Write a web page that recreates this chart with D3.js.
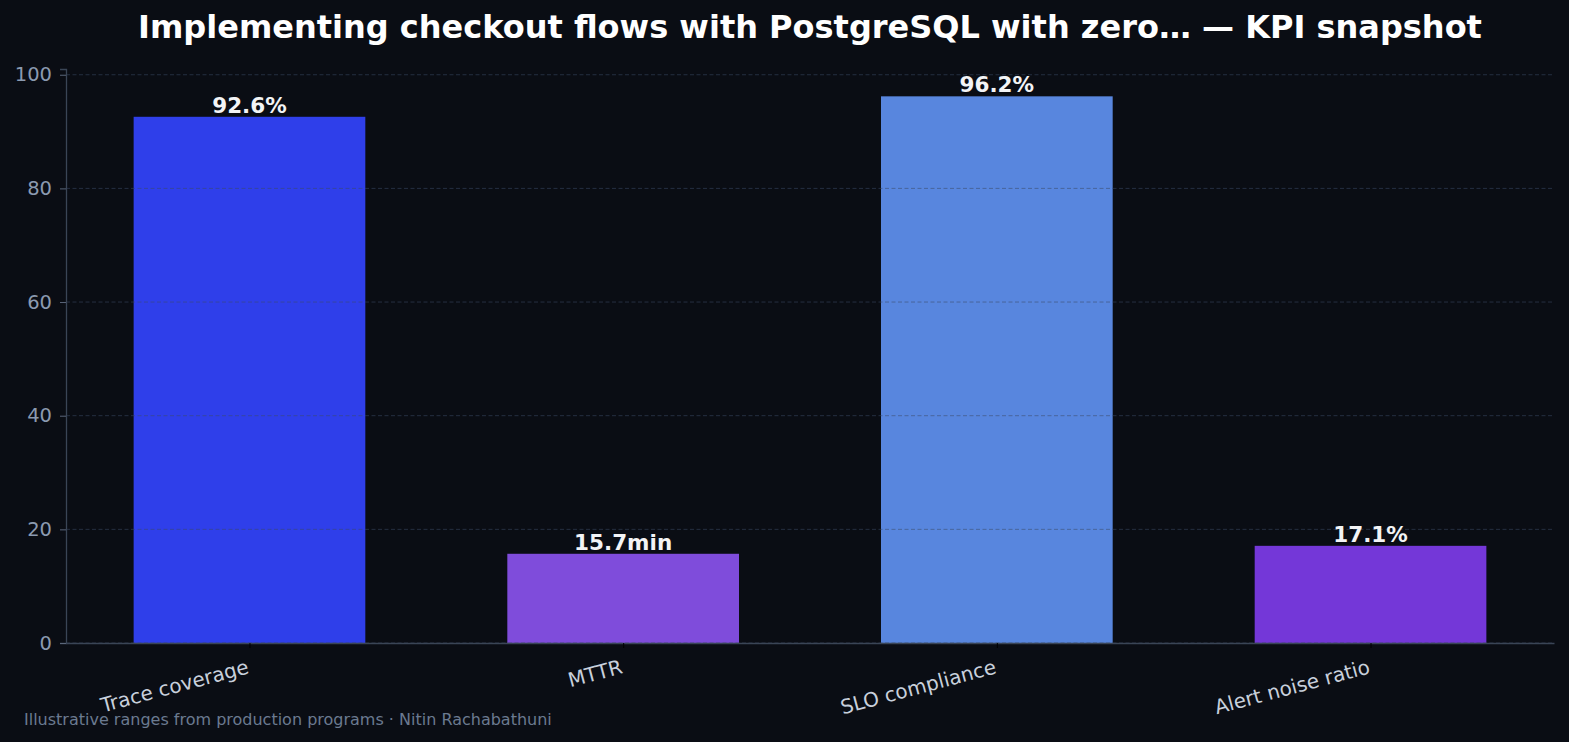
<!DOCTYPE html>
<html>
<head>
<meta charset="utf-8">
<script src="https://cdn.jsdelivr.net/npm/d3@7"></script>
<style>
  html, body { margin: 0; padding: 0; background: #0a0d14; }
  svg { display: block; font-family: "DejaVu Sans", sans-serif; }
</style>
</head>
<body>
<script>
//chart data
var categories = ["Trace coverage", "MTTR", "SLO compliance", "Alert noise ratio"];
var values = [92.6, 15.7, 96.2, 17.1];
var valueLabels = ["92.6%", "15.7min", "96.2%", "17.1%"];
var barColors = ["#2f3fea", "#7f4cdb", "#5886de", "#7437d8"];
var yTicks = [0, 20, 40, 60, 80, 100];

var width = 1569, height = 742;
var margin = {left: 66, right: 15, top: 69, bottom: 99};

var svg = d3.select("body").append("svg")
  .attr("width", width)
  .attr("height", height);

svg.append("rect").attr("width", width).attr("height", height).attr("fill", "#0a0d14");

//scales, matplotlib style margins
var x = d3.scaleLinear()
  .domain([-0.491, categories.length - 1 + 0.491])
  .range([margin.left, width - margin.right]);
var y = d3.scaleLinear()
  .domain([0, d3.max(values) * 1.05])
  .range([height - margin.bottom, margin.top]);
var barW = x(0.62) - x(0);

//bars
svg.selectAll(".bar")
  .data(values)
  .enter()
  .append("rect")
  .attr("class", "bar")
  .attr("x", function(d, i){ return x(i) - barW / 2; })
  .attr("y", function(d){ return y(d); })
  .attr("width", barW)
  .attr("height", function(d){ return y(0) - y(d); })
  .attr("fill", function(d, i){ return barColors[i]; });

//grid lines on top of bars
svg.selectAll(".grid")
  .data(yTicks)
  .enter()
  .append("line")
  .attr("x1", margin.left)
  .attr("x2", width - margin.right)
  .attr("y1", function(d){ return y(d); })
  .attr("y2", function(d){ return y(d); })
  .attr("stroke", "#3b4a66")
  .attr("stroke-opacity", 0.55)
  .attr("stroke-width", 1)
  .attr("stroke-dasharray", "4,2.5");

//value labels
svg.selectAll(".val")
  .data(values)
  .enter()
  .append("text")
  .attr("x", function(d, i){ return x(i); })
  .attr("y", function(d){ return y(d) - 4; })
  .attr("text-anchor", "middle")
  .attr("fill", "#f3f4f6")
  .attr("font-size", 21.5)
  .attr("font-weight", "bold")
  .text(function(d, i){ return valueLabels[i]; });

//y axis
var yAxis = svg.append("g")
  .attr("transform", "translate(" + margin.left + ",0)")
  .call(d3.axisLeft(y).tickValues(yTicks).tickSize(6).tickPadding(8));
yAxis.select(".domain").attr("stroke", "#3a4556").attr("stroke-width", 1.3);
yAxis.selectAll(".tick line").attr("stroke", "#5a667a");
yAxis.selectAll(".tick text")
  .attr("fill", "#8b9ab0")
  .attr("font-size", 19.5)
  .attr("font-family", "DejaVu Sans, sans-serif");

//x axis
var xAxis = svg.append("g")
  .attr("transform", "translate(0," + y(0) + ")")
  .call(d3.axisBottom(x).tickValues(d3.range(categories.length))
    .tickFormat(function(d){ return categories[d]; })
    .tickSize(5).tickSizeOuter(0));
xAxis.select(".domain").attr("stroke", "#3a4556").attr("stroke-width", 1.3);
xAxis.selectAll(".tick line").attr("stroke", "#000");
xAxis.selectAll(".tick text")
  .attr("fill", "#c8d0dc")
  .attr("font-size", 20)
  .attr("font-family", "DejaVu Sans, sans-serif")
  .attr("text-anchor", "end")
  .attr("y", 0)
  .attr("dy", 0)
  .attr("transform", "translate(0,30) rotate(-15)");

//title
svg.append("text")
  .attr("x", 810)
  .attr("y", 38)
  .attr("text-anchor", "middle")
  .attr("fill", "#ffffff")
  .attr("font-size", 32)
  .attr("font-weight", "bold")
  .text("Implementing checkout flows with PostgreSQL with zero\u2026 \u2014 KPI snapshot");

//footer
svg.append("text")
  .attr("x", 24)
  .attr("y", 725)
  .attr("fill", "#6b7a90")
  .attr("font-size", 16)
  .text("Illustrative ranges from production programs \u00b7 Nitin Rachabathuni");
</script>
</body>
</html>
